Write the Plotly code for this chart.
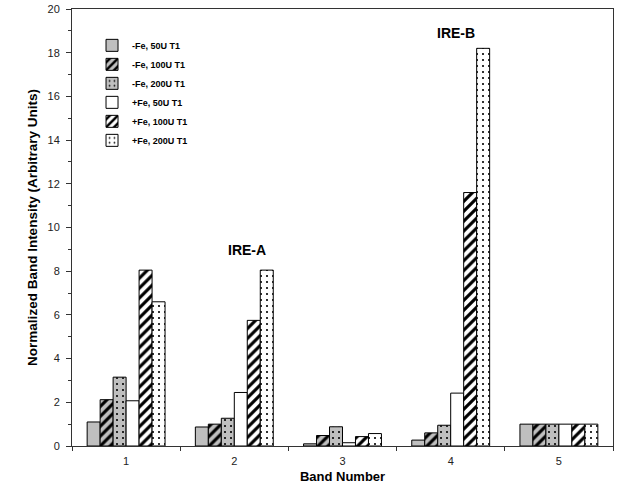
import plotly.graph_objects as go

bands = ["1", "2", "3", "4", "5"]

fe_minus_50 = [1.1, 0.87, 0.1, 0.27, 1.0]
fe_minus_100 = [2.12, 1.0, 0.48, 0.6, 1.0]
fe_minus_200 = [3.15, 1.27, 0.88, 0.95, 1.0]
fe_plus_50 = [2.07, 2.45, 0.15, 2.42, 1.0]
fe_plus_100 = [8.05, 5.75, 0.43, 11.6, 1.0]
fe_plus_200 = [6.6, 8.05, 0.57, 18.2, 1.0]

series_names = ["-Fe, 50U T1", "-Fe, 100U T1", "-Fe, 200U T1",
                "+Fe, 50U T1", "+Fe, 100U T1", "+Fe, 200U T1"]
series_values = [fe_minus_50, fe_minus_100, fe_minus_200,
                 fe_plus_50, fe_plus_100, fe_plus_200]

GRAY = "#bfbfbf"
fills = [GRAY, GRAY, GRAY, "white", "white", "white"]
shapes = ["", "/", ".", "", "/", "."]

FONT = "Liberation Sans, Arial, sans-serif"

fig = go.Figure()
for name, vals, fill, shp in zip(series_names, series_values, fills, shapes):
    n = len(vals)
    pattern = dict(shape=[shp] * n, fgcolor="black", bgcolor=fill, fillmode="replace")
    if shp == "/":
        pattern.update(size=7, solidity=0.45)
    elif shp == ".":
        pattern.update(size=6, solidity=0.1)
    fig.add_trace(go.Bar(
        x=bands, y=vals, name="<b>" + name + "</b>",
        marker=dict(color=fill, line=dict(color="black", width=1), pattern=pattern),
    ))

fig.add_annotation(x=1, y=8.95, text="<b>IRE-A</b>", showarrow=False,
                   xshift=13, font=dict(size=14, color="black", family=FONT))
fig.add_annotation(x=3, y=18.9, text="<b>IRE-B</b>", showarrow=False,
                   xshift=5, font=dict(size=14, color="black", family=FONT))

fig.update_layout(
    width=621, height=487,
    margin=dict(l=72, r=8, t=9, b=41),
    paper_bgcolor="white", plot_bgcolor="white",
    font=dict(family=FONT, size=11, color="#222222"),
    barmode="group", bargap=0.28, bargroupgap=0,
    legend=dict(x=0.037, y=0.95, xanchor="left", yanchor="top",
                font=dict(size=9, color="black", family=FONT),
                bgcolor="rgba(0,0,0,0)", tracegroupgap=0),
    xaxis=dict(
        title=dict(text="<b>Band Number</b>", font=dict(size=13, color="black"), standoff=5),
        type="category", range=[-0.5, 4.5], tickson="boundaries",
        ticks="outside", ticklen=4, tickcolor="#333333", ticklabelstandoff=5,
        showline=True, linecolor="#333333", linewidth=1, mirror=True,
        showgrid=False, automargin=False,
    ),
    yaxis=dict(
        title=dict(text="<b>Normalized Band Intensity (Arbitrary Units)</b>",
                   font=dict(size=13.5, color="black"), standoff=6),
        range=[0, 20], dtick=2, ticks="outside", ticklen=5, tickcolor="#333333",
        ticklabelstandoff=4,
        minor=dict(dtick=1, ticks="outside", ticklen=3, tickcolor="#333333"),
        showline=True, linecolor="#333333", linewidth=1, mirror=True,
        showgrid=False, zeroline=False, automargin=False,
    ),
)

fig.write_html("out.html", config={"displayModeBar": False},
               post_script="document.body.style.margin = '0';")
